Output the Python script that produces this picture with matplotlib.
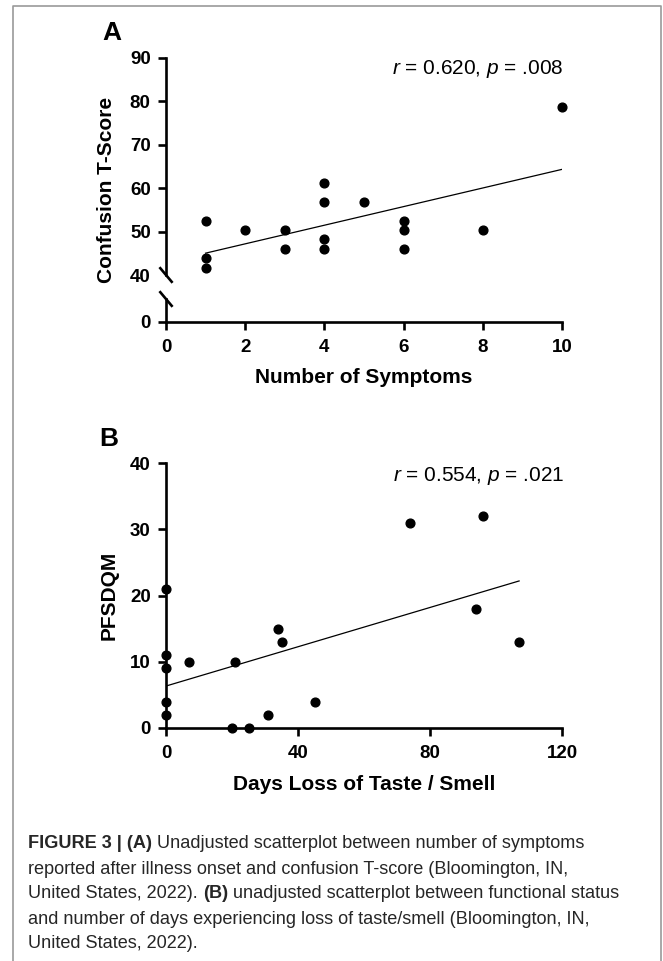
import numpy as np
import matplotlib
matplotlib.use("Agg")
import matplotlib.pyplot as plt

plt.rcParams['font.family'] = ['Liberation Sans', 'DejaVu Sans']
plt.rcParams['mathtext.fontset'] = 'custom'
plt.rcParams['mathtext.it'] = 'Liberation Sans:italic'
plt.rcParams['mathtext.rm'] = 'Liberation Sans'

# Panel A: number of symptoms vs confusion T-score
symptoms = [1, 1, 1, 2, 3, 3, 4, 4, 4, 4, 5, 6, 6, 6, 8, 10]
confusion = [52.5, 44.0, 41.7, 50.4, 50.4, 46.0, 61.2, 56.9, 48.2, 46.0,
             56.9, 52.5, 50.4, 46.0, 50.4, 78.6]
a_yticks = [40, 50, 60, 70, 80, 90]
a_xticks = [0, 2, 4, 6, 8, 10]
a_stats = r'$r$ = 0.620, $p$ = .008'

# Panel B: days loss of taste/smell vs PFSDQM
days = [0, 0, 0, 0, 0, 7, 21, 34, 35, 45, 31, 20, 25, 74, 96, 94, 107]
pfsdqm = [21, 11, 9, 4, 2, 10, 10, 15, 13, 4, 2, 0, 0, 31, 32, 18, 13]
b_yticks = [0, 10, 20, 30, 40]
b_xticks = [0, 40, 80, 120]
b_stats = r'$r$ = 0.554, $p$ = .021'

W, H = 663, 961
fig = plt.figure(figsize=(W / 100, H / 100), dpi=100)


def px(x, y):
    return x / W, 1 - y / H


def rect(x0, y0, x1, y1):
    return [x0 / W, 1 - y1 / H, (x1 - x0) / W, (y1 - y0) / H]


LW = 1.9


def style(ax):
    for s in ['top', 'right']:
        ax.spines[s].set_visible(False)
    for s in ['left', 'bottom']:
        ax.spines[s].set_linewidth(LW)
    ax.tick_params(direction='out', length=6, width=LW, labelsize=13.5)
    ax.tick_params(axis='x', pad=6.5)
    ax.tick_params(axis='y', pad=5)
    for lbl in ax.get_xticklabels() + ax.get_yticklabels():
        lbl.set_fontweight('bold')


# ---- Panel A (broken y axis) ----
axA = fig.add_axes(rect(166, 58, 562, 275))
axA0 = fig.add_axes(rect(166, 299, 562, 322), sharex=axA)

axA.plot(symptoms, confusion, 'o', color='black', ms=6.3, clip_on=False, zorder=5)
k, b = np.polyfit(symptoms, confusion, 1)
xs = np.array([min(symptoms), max(symptoms)])
axA.plot(xs, k * xs + b, color='black', lw=0.9)

axA.set_ylim(40, 90)
axA.set_yticks(a_yticks)
axA.set_xlim(0, 10)
axA.spines['bottom'].set_visible(False)
axA.tick_params(axis='x', bottom=False, labelbottom=False)
style(axA)
axA.yaxis.get_major_ticks()[0].tick1line.set_visible(False)

axA0.set_ylim(0, 5.3)
axA0.set_yticks([0])
axA0.set_xticks(a_xticks)
style(axA0)

# break marks
dx, dy = 5.7, 6.8
axA.plot([-dx / 396, dx / 396], [dy / 217, -dy / 217], color='black',
         lw=LW, transform=axA.transAxes, clip_on=False)
axA0.plot([-dx / 396, dx / 396], [1 + dy / 23, 1 - dy / 23], color='black',
          lw=LW, transform=axA0.transAxes, clip_on=False)

fig.text(*px(107, 190), 'Confusion T-Score', rotation=90, ha='center', va='center',
         fontsize=15, fontweight='bold')
fig.text(*px(364, 378), 'Number of Symptoms', ha='center', va='center',
         fontsize=15, fontweight='bold')
fig.text(*px(112, 33), 'A', ha='center', va='center', fontsize=19, fontweight='bold')
fig.text(*px(478, 69), a_stats, ha='center', va='center', fontsize=15)

# ---- Panel B ----
axB = fig.add_axes(rect(166, 463, 562, 728))
axB.plot(days, pfsdqm, 'o', color='black', ms=6.3, clip_on=False, zorder=5)
k, b = np.polyfit(days, pfsdqm, 1)
xs = np.array([min(days), max(days)])
axB.plot(xs, k * xs + b, color='black', lw=0.9)
axB.set_xlim(0, 120)
axB.set_ylim(0, 40)
axB.set_xticks(b_xticks)
axB.set_yticks(b_yticks)
style(axB)

fig.text(*px(109, 595), 'PFSDQM', rotation=90, ha='center', va='center',
         fontsize=15, fontweight='bold')
fig.text(*px(364, 785), 'Days Loss of Taste / Smell', ha='center', va='center',
         fontsize=15, fontweight='bold')
fig.text(*px(109, 439), 'B', ha='center', va='center', fontsize=19, fontweight='bold')
fig.text(*px(479, 476), b_stats, ha='center', va='center', fontsize=15)

# ---- caption ----
cap = fig.add_axes([0, 0, 1, 1])
cap.axis('off')
cap.set_zorder(-1)
CAP_FS = 13.1
CAP_COLOR = '#262626'
lines = [
    [('FIGURE 3 | (A)', 'bold'), (' Unadjusted scatterplot between number of symptoms', 'normal')],
    [('reported after illness onset and confusion T-score (Bloomington, IN,', 'normal')],
    [('United States, 2022). ', 'normal'), ('(B)', 'bold'),
     (' unadjusted scatterplot between functional status', 'normal')],
    [('and number of days experiencing loss of taste/smell (Bloomington, IN,', 'normal')],
    [('United States, 2022).', 'normal')],
]
for i, parts in enumerate(lines):
    y = 844 + 25 * i
    prev = None
    for txt, wt in parts:
        if prev is None:
            prev = cap.text(28 / W, 1 - y / H, txt, transform=cap.transAxes,
                            ha='left', va='center', fontsize=CAP_FS,
                            fontweight=wt, color=CAP_COLOR)
        else:
            prev = cap.annotate(txt, xy=(1, 0), xycoords=prev, ha='left', va='bottom',
                                fontsize=CAP_FS, fontweight=wt, color=CAP_COLOR)

# frame around figure (open at the bottom)
fc = '#9a9a9a'
cap.plot([13 / W, 13 / W, 661 / W, 661 / W], [0, 1 - 6 / H, 1 - 6 / H, 0],
         color=fc, lw=1.2, transform=cap.transAxes, clip_on=False)

fig.savefig('out.png', dpi=100)
